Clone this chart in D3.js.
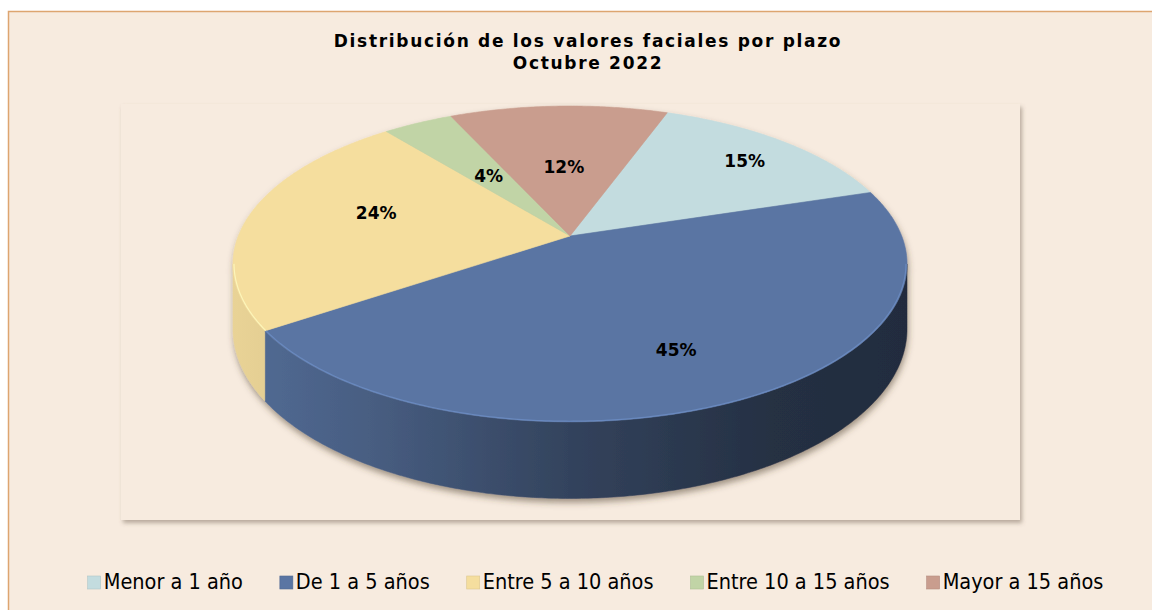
<!DOCTYPE html>
<html><head><meta charset="utf-8">
<script src="https://cdn.jsdelivr.net/npm/d3@7"></script>
<style>body{margin:0;background:#fff;} svg{display:block}</style>
</head><body>
<svg id="chart" width="1152" height="610"></svg>
<script>
// ---- data ----
const categories = ["Menor a 1 año","De 1 a 5 años","Entre 5 a 10 años","Entre 10 a 15 años","Mayor a 15 años"];
const values = [14.6, 45.4, 23.6, 4.0, 12.4];
const labels = ["15%","45%","24%","4%","12%"];
const colors = ["#C3DCDF","#5A75A3","#F5DE9E","#C1D4A6","#C99D8E"];
const titleLines = ["Distribución de los valores faciales por plazo","Octubre 2022"];

// ---- layout ----
const W = 1152, H = 610;
const svg = d3.select("#chart");
const defs = svg.append("defs");

const bg = "#F7EBDF";
svg.append("rect").attr("x",0).attr("y",0).attr("width",W).attr("height",H).attr("fill","#fff");
svg.append("rect").attr("x",8.5).attr("y",11.5).attr("width",W+10).attr("height",H+10)
  .attr("fill",bg).attr("stroke","#DDA570").attr("stroke-width",1.5);

// plot area shadow
const fPlot = defs.append("filter").attr("id","plotShadow").attr("x","-5%").attr("y","-5%").attr("width","110%").attr("height","115%");
fPlot.append("feDropShadow").attr("dx",2).attr("dy",3).attr("stdDeviation",2).attr("flood-color","#6b5a48").attr("flood-opacity",0.45);
svg.append("rect").attr("x",121).attr("y",104).attr("width",899).attr("height",416)
  .attr("fill",bg).attr("filter","url(#plotShadow)");

// title
const title = svg.append("text").attr("text-anchor","middle")
  .style("font-family","'DejaVu Sans', Verdana, sans-serif").style("font-weight","bold")
  .style("font-size","17px").style("letter-spacing","1.7px").attr("fill","#000");
titleLines.forEach((t,i)=>{
  title.append("tspan").attr("x",588).attr("y",47 + i*22).text(t);
});

// ---- 3D pie projection ----
const pcx = 570, pcy = 236, RA = 331.7, RB = 153, K = 0.177, DEPTH = 63;
function proj(theta, r, d) {
  const u = r*Math.cos(theta), v = r*Math.sin(theta);
  const w = 1 - K*v;
  return [pcx + RA*u/w, pcy + RB*v/w + d*DEPTH/w];
}
const startDeg = 20;
const pie = d3.pie().sort(null).value(d=>d)
  .startAngle(startDeg*Math.PI/180).endAngle(startDeg*Math.PI/180 + 2*Math.PI);
const arcs = pie(values).map((a,i)=>({i, t0:a.startAngle - Math.PI/2, t1:a.endAngle - Math.PI/2}));

function arcPts(t0,t1,r,d){
  const n = Math.max(2, Math.ceil(Math.abs(t1-t0)/0.01));
  return d3.range(n+1).map(k=>proj(t0+(t1-t0)*k/n, r, d));
}
const line = d3.line();

const fPie = defs.append("filter").attr("id","pieShadow").attr("x","-10%").attr("y","-10%").attr("width","120%").attr("height","130%");
fPie.append("feDropShadow").attr("dx",1).attr("dy",4).attr("stdDeviation",3).attr("flood-color","#4a3a2a").attr("flood-opacity",0.5);

const gPie = svg.append("g").attr("filter","url(#pieShadow)");

// wall gradients
const xMin = pcx - RA*1.02, xMax = pcx + RA*1.02;
const shadeStops = [[0,0.92],[0.2,0.80],[0.5,0.57],[0.8,0.41],[1,0.38]];
colors.forEach((c,i)=>{
  const g = defs.append("linearGradient").attr("id","wall"+i).attr("gradientUnits","userSpaceOnUse")
    .attr("x1",xMin).attr("x2",xMax).attr("y1",0).attr("y2",0);
  const col = d3.rgb(c);
  const lum = (col.r+col.g+col.b)/765;
  shadeStops.forEach(([o,f])=>{
    const ff = 1 - (1-f)*(lum>0.7 ? 0.6 : 1);
    g.append("stop").attr("offset",o).attr("stop-color", d3.rgb(col.r*ff, col.g*ff, col.b*ff).formatHex());
  });
});

// visible wall range
const vs0 = Math.asin(K), vs1 = Math.PI - Math.asin(K);
arcs.forEach(a=>{
  [-2*Math.PI,0,2*Math.PI].forEach(s=>{
    const a0 = Math.max(a.t0+s, vs0), a1 = Math.min(a.t1+s, vs1);
    if (a1 > a0) {
      const pts = arcPts(a0,a1,1,0).concat(arcPts(a1,a0,1,1));
      gPie.append("path").attr("d", line(pts)+"Z").attr("fill","url(#wall"+a.i+")")
        .attr("stroke","url(#wall"+a.i+")").attr("stroke-width",0.5);
    }
  });
});
// top faces
arcs.forEach(a=>{
  const pts = [proj(0,0,0)].concat(arcPts(a.t0,a.t1,1,0));
  gPie.append("path").attr("d", line(pts)+"Z").attr("fill",colors[a.i])
    .attr("stroke",colors[a.i]).attr("stroke-width",0.6);
});
// rim highlight on front
arcs.forEach(a=>{
  [-2*Math.PI,0,2*Math.PI].forEach(s=>{
    const a0 = Math.max(a.t0+s, vs0), a1 = Math.min(a.t1+s, vs1);
    if (a1 > a0) {
      svg.append("path").attr("d", line(arcPts(a0,a1,0.997,0))).attr("fill","none")
        .attr("stroke", d3.color(colors[a.i]).brighter(0.6)).attr("stroke-width",1.2).attr("stroke-opacity",0.7);
    }
  });
});

// labels (placement tuning, not data)
const labelR  = [0.80, 0.66, 0.60, 0.50, 0.50];
const labelDy = [2, 12, -10, 0, 1];
arcs.forEach(a=>{
  const p = proj((a.t0+a.t1)/2, labelR[a.i], 0);
  svg.append("text").attr("x",p[0]).attr("y",p[1] + labelDy[a.i]).attr("text-anchor","middle").attr("dy","0.35em")
    .style("font-family","'DejaVu Sans', Verdana, sans-serif").style("font-weight","bold")
    .style("font-size","17px").attr("fill","#000").text(labels[a.i]);
});

// legend
const lg = svg.append("g");
const items = categories.map((c,i)=>{
  const g = lg.append("g");
  g.append("rect").attr("width",13).attr("height",13).attr("y",-13).attr("fill",colors[i])
    .attr("stroke",d3.color(colors[i]).darker(0.3)).attr("stroke-width",0.6);
  const t = g.append("text").attr("x",16).attr("y",0)
    .style("font-family","'DejaVu Sans Condensed','DejaVu Sans',sans-serif").style("font-stretch","condensed")
    .style("font-size","21.5px").attr("fill","#000").text(c);
  return {g, w: 16 + t.node().getComputedTextLength()};
});
const gap = 37;
const total = d3.sum(items, d=>d.w) + gap*(items.length-1);
let x = 595.5 - total/2;
items.forEach(it=>{ it.g.attr("transform",`translate(${x},589)`); x += it.w + gap; });
</script>
</body></html>
